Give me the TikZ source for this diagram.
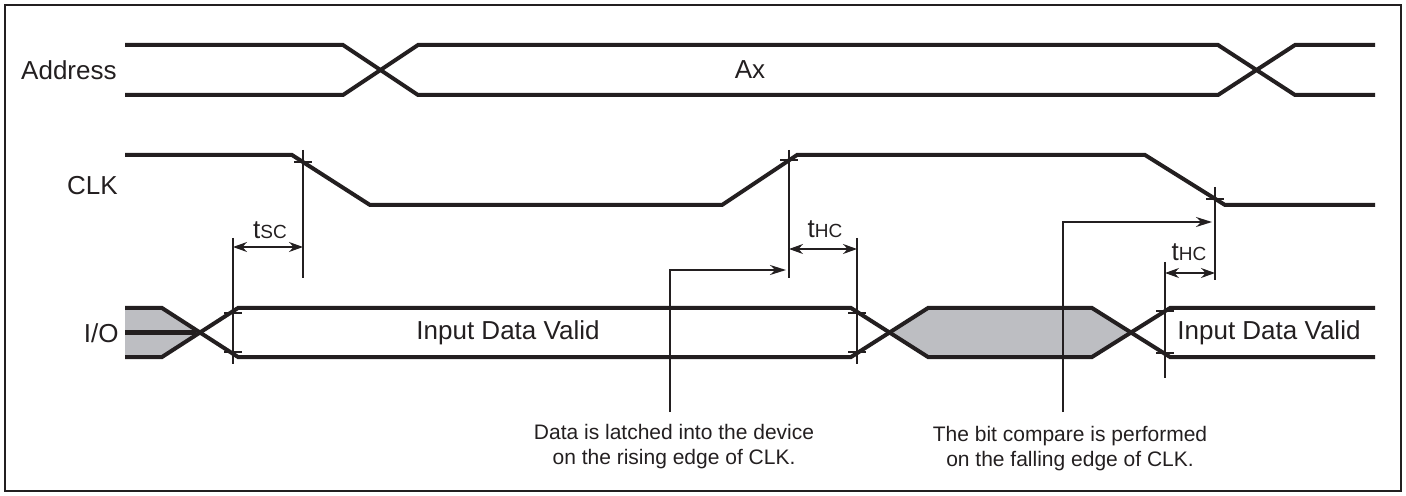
\documentclass[tikz,border=0pt]{standalone}
\usepackage{fontspec}
\setmainfont{Liberation Sans}
\usepackage{tikz}
\usetikzlibrary{arrows.meta}
\definecolor{ink}{RGB}{35,31,32}
\definecolor{bus}{RGB}{189,190,194}

\tikzset{
    sig/.style={line width=2pt, draw=ink},
    thin/.style={line width=0.6pt, draw=ink},
    dim/.style={thin, {Stealth[length=7pt,width=5pt]}-{Stealth[length=7pt,width=5pt]}},
    lead/.style={line width=1pt, draw=ink, -{Stealth[length=8pt,width=5pt]}},
    lbl/.style={font=\fontsize{13}{15}\selectfont, text=ink, inner sep=0pt},
    note/.style={font=\fontsize{10.5}{12.5}\selectfont, text=ink, align=center, inner sep=0pt}
}
\newcommand{\sub}[1]{{\fontsize{9.5}{9.5}\selectfont #1}}

\begin{document}
\begin{tikzpicture}[x=0.5pt,y=-0.5pt]
    \useasboundingbox (0,0) rectangle (1406,496);
    \draw[line width=1.2pt, draw=ink] (5,5) rectangle (1401,491);

    % signal names
    \node[lbl, anchor=east] (addr) at (117,70) {Address};
    \node[lbl, anchor=east] (clk) at (118,186) {CLK};
    \node[lbl, anchor=east] (io) at (119,333) {I/O};

    % address bus
    \draw[sig] (125,45) -- (343,45) -- (418,95) -- (1218,95) -- (1295,45) -- (1375,45);
    \draw[sig] (125,95) -- (343,95) -- (418,45) -- (1218,45) -- (1295,95) -- (1375,95);
    \node[lbl] (ax) at (750,70) {Ax};

    % clock
    \draw[sig] (125,155) -- (292,155) -- (370,205) -- (722,205) -- (797,155)
        -- (1145,155) -- (1225,205) -- (1375,205);

    % data
    \fill[bus] (125,308) -- (162,308) -- (200,332.5) -- (162,357) -- (125,357) -- cycle;
    \fill[bus] (889.5,332.5) -- (928,308) -- (1092,308) -- (1131,332.5) -- (1092,357) -- (928,357) -- cycle;
    \draw[sig] (125,308) -- (162,308) -- (238,357) -- (851,357) -- (928,308)
        -- (1092,308) -- (1170,357) -- (1375,357);
    \draw[sig] (125,357) -- (162,357) -- (238,308) -- (851,308) -- (928,357)
        -- (1092,357) -- (1170,308) -- (1375,308);
    \draw[sig] (125,332.5) -- (196,332.5);
    \node[lbl] (valid1) at (508,333) {Input Data Valid};
    \node[lbl, anchor=west] (valid2) at (1177,333) {Input Data Valid};

    % timing marks
    \draw[thin] (303,150) -- (303,278);
    \draw[thin] (233,238) -- (233,364);
    \draw[thin] (789,150) -- (789,278);
    \draw[thin] (857,238) -- (857,364);
    \draw[thin] (1215,187) -- (1215,280);
    \draw[thin] (1165,262) -- (1165,378);
    \foreach \x/\y in {303/162, 789/160, 1215/199, 233/313, 233/352, 857/313, 857/352, 1165/311, 1165/353}
        \draw[thin] (\x-9,\y) -- (\x+9,\y);

    \coordinate (sc0) at (233,247);
    \coordinate (sc1) at (303,247);
    \coordinate (hca0) at (789,249);
    \coordinate (hca1) at (857,249);
    \coordinate (hcb0) at (1165,273);
    \coordinate (hcb1) at (1215,273);
    \draw[dim] (sc0) -- (sc1);
    \draw[dim] (hca0) -- (hca1);
    \draw[dim] (hcb0) -- (hcb1);
    \node[lbl, anchor=base] (tsc) at (270,239) {t\sub{SC}};
    \node[lbl, anchor=base] (thca) at (825,238) {t\sub{HC}};
    \node[lbl, anchor=base] (thcb) at (1189,261) {t\sub{HC}};

    % notes
    \node[note, anchor=north] (latch) at (674,424) {Data is latched into the device\\on the rising edge of CLK.};
    \node[note, anchor=north] (cmp) at (1070,426) {The bit compare is performed\\on the falling edge of CLK.};
    \coordinate (latchfoot) at (670,412);
    \coordinate (latchtip) at (786,270);
    \coordinate (cmpfoot) at (1063,412);
    \coordinate (cmptip) at (1212,222);
    \draw[lead] (latchfoot) |- (latchtip);
    \draw[lead] (cmpfoot) |- (cmptip);
\end{tikzpicture}
\end{document}
